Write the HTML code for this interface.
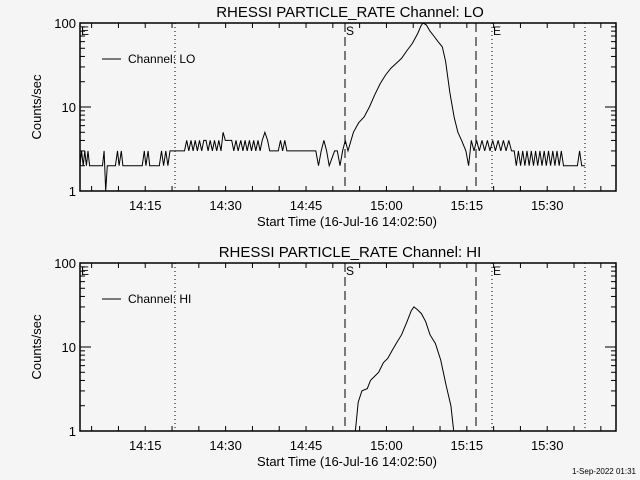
<!DOCTYPE html>
<html><head><meta charset="utf-8"><style>
html,body{margin:0;padding:0;background:#f5f5f5;}
svg{display:block;font-family:"Liberation Sans",sans-serif;}
</style></head><body>
<svg id="chart" width="640" height="480" viewBox="0 0 640 480" xmlns="http://www.w3.org/2000/svg">
<rect width="640" height="480" fill="#f5f5f5"/>
</svg>
<script>
const loTimes=[0,0.3,0.6,0.9,1.2,1.5,1.8,2.2,4.2,4.5,4.8,5.1,6.6,7.0,7.3,7.7,8.0,11.6,12.0,12.3,12.7,13.0,14.8,15.2,15.6,16.0,16.4,16.8,17.2,17.7,
19.5,19.9,20.3,20.7,21.1,21.5,21.9,22.3,22.7,23.1,23.5,23.9,24.3,24.7,25.1,25.5,25.9,26.3,26.7,27.1,27.5,27.9,28.3,28.7,29.1,29.5,
30.0,30.4,30.8,31.2,31.6,32.0,32.4,32.8,33.2,33.6,34.0,34.5,35.0,35.4,36.0,37.0,37.4,37.8,38.2,38.6,39.0,
44.0,44.5,45.0,45.5,46.0,46.5,47.5,48.0,48.5,49.0,49.5,
50,51,52,53,54,55,56,57,58,59,60,61,62,63,63.6,64,64.6,65.3,66,66.8,67.6,68.2,69,69.8,70.5,71.2,72,72.5,73,73.5,74,74.5,75,75.5,76,76.5,77,77.5,78,78.5,79,79.5,80,80.5,
81,81.4,81.8,82.2,82.6,83,83.4,83.8,84.2,84.6,85,85.4,85.8,86.2,86.6,87,87.4,87.8,88.2,88.6,89,89.4,89.8,90.2,92.8,93.2,93.6,94.2];
const loValues=[2,3,2,3,2,3,2,2,2,3,1,2,2,3,2,3,2,2,3,2,3,2,2,3,2,3,2,3,3,3,
3,4,3,4,3,4,3,4,3,4,4,3,4,3,4,3,4,3,5,4,4,4,4,3,4,3,
4,3,4,3,4,3,4,3,4,3,4,5,4,3,3,3,4,3,4,3,3,
3,2,3,4,3,2,3,3,2,3,4,
3,5,6.5,7.6,10,14,19,24,29,33,38,47,57,75,92,100,95,80,70,60,52,35,15,7.6,5,4,3,2,4,3,4,3,4,3,4,3,4,3,4,3,4,3,4,3,
3,2,3,2,3,2,3,2,3,2,3,2,3,2,3,2,3,2,3,2,3,2,3,2,2,3,2,2];
const hiTimes=[51.3,51.9,52.6,53.6,54.2,55.0,55.7,56.6,57.4,58.2,59.0,60.0,61.0,61.8,62.3,62.9,63.7,64.5,65.3,66.3,67.3,68.3,69.2,69.8];
const hiValues=[0.9,2.2,3,3.2,4,4.5,5,6.5,7.3,9,11,14,20,27,30,28,25,20,14,11,7,3.5,2,0.9];
const majorTicks=["14:15","14:30","14:45","15:00","15:15","15:30"];
const majorMinutes=[12.17,27.17,42.17,57.17,72.17,87.17];
const yTickValues=[1,10,100];
const yTickLabels=["1","10","100"];

const NS="http://www.w3.org/2000/svg";
const svg=document.getElementById('chart');
const X0=80,X1=616,TMAX=100;
function xs(t){return X0+(X1-X0)*t/TMAX;}
function mk(tag,attrs,parent){const e=document.createElementNS(NS,tag);for(const k in attrs)e.setAttribute(k,attrs[k]);(parent||svg).appendChild(e);return e;}
function txt(x,y,s,size,anchor,parent){const e=mk('text',{x:x,y:y,'font-size':size,'text-anchor':anchor||'start',fill:'#000'},parent);e.textContent=s;return e;}

function panel(top,title,legend,times,values,idx){
  const bot=top+168;
  function ys(v){return bot-84*Math.log10(v);}
  const g=mk('g',{});
  
  
  const ti=txt(350,top-6,title,15,'middle',g);
  
  
  const fr=mk('rect',{x:X0,y:top,width:X1-X0,height:168,fill:'none',stroke:'#000','stroke-width':1.5},g);
  
  
  for(let d=0;d<2;d++){for(let m=1;m<=9;m++){const v=m*Math.pow(10,d);const y=ys(v);const L=(m===1)?11:5;
    mk('line',{x1:X0,x2:X0+L,y1:y,y2:y,stroke:'#000'},g);mk('line',{x1:X1,x2:X1-L,y1:y,y2:y,stroke:'#000'},g);}}
  yTickValues.forEach((v,i)=>{const t=txt(X0-4,ys(v)+5,yTickLabels[i],13,'end',g);
    
    });
  for(let t=2.17;t<TMAX;t+=5){const x=xs(t);mk('line',{x1:x,x2:x,y1:bot,y2:bot-5,stroke:'#000'},g);mk('line',{x1:x,x2:x,y1:top,y2:top+5,stroke:'#000'},g);}
  majorTicks.forEach((s,i)=>{const t=txt(xs(majorMinutes[i]),bot+19,s,13,'middle',g);
    
    });
  const xt=txt(347,bot+35,'Start Time (16-Jul-16 14:02:50)',13,'middle',g);
  
  
  const yt=txt(0,0,'Counts/sec',13,'middle',g);
  yt.setAttribute('transform','translate(41,'+(top+84)+') rotate(-90)');
  
  
  [175,492,585].forEach(x=>{const l=mk('line',{x1:x,x2:x,y1:top,y2:bot,stroke:'#000','stroke-dasharray':'1 3'},g);
    
    });
  [345,476].forEach(x=>{const l=mk('line',{x1:x,x2:x,y1:top,y2:bot,stroke:'#000','stroke-dasharray':'9 5'},g);
    
    });
  txt(346,top+12,'S',12,'start',g);
  txt(493,top+12,'E',12,'start',g);
  txt(81,top+12,'E',12,'start',g);
  const lg=mk('g',{},g);
  
  
  mk('line',{x1:102,x2:121,y1:top+36,y2:top+36,stroke:'#000'},lg);
  txt(128,top+40,legend,12,'start',lg);
  const cp=mk('clipPath',{id:'clip'+idx},g);
  mk('rect',{x:X0,y:top,width:X1-X0,height:168},cp);
  const pts=times.map((t,i)=>xs(t).toFixed(1)+','+ys(values[i]).toFixed(1)).join(' ');
  const pl=mk('polyline',{points:pts,fill:'none',stroke:'#000','stroke-width':1,'clip-path':'url(#clip'+idx+')'},g);
  
  
}
panel(23,'RHESSI PARTICLE_RATE Channel: LO','Channel: LO',loTimes,loValues,1);
panel(263,'RHESSI PARTICLE_RATE Channel: HI','Channel: HI',hiTimes,hiValues,2);
const st=txt(636,474,'1-Sep-2022 01:31',8,'end');


</script>
</body></html>
